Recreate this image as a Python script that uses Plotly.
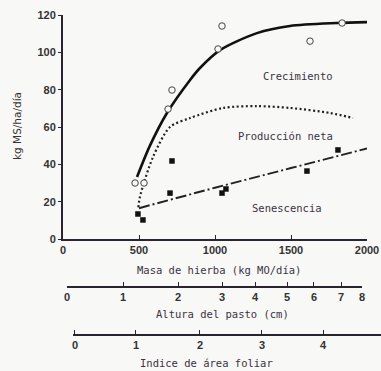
import plotly.graph_objects as go

# ---- data ----
crec_pts_x = [474, 533, 691, 717, 1020, 1046, 1625, 1836]
crec_pts_y = [30, 30, 69.6, 79.8, 101.8, 114.1, 106, 115.7]

sen_pts_x = [493, 526, 704, 717, 1046, 1072, 1605, 1809]
sen_pts_y = [13.4, 10.2, 24.6, 41.8, 24.6, 26.8, 36.4, 47.7]

crec_curve_x = [487, 572, 684, 836, 901, 1033, 1276, 1493, 1803, 2000]
crec_curve_y = [33.2, 50, 67.5, 85.2, 91.6, 101.2, 110.3, 114.1, 115.7, 116.2]

neta_curve_x = [496, 506, 592, 704, 836, 1053, 1276, 1493, 1757, 1908]
neta_curve_y = [17, 22.5, 43.9, 60, 64.8, 70.2, 71.2, 70.2, 67.5, 64.8]

sen_curve_x = [500, 1000, 1500, 2000]
sen_curve_y = [16.5, 27.5, 38, 48.5]

x_ticks = [0, 500, 1000, 1500, 2000]
y_ticks = [0, 20, 40, 60, 80, 100, 120]

# grass-mass equivalents of the height and LAI ticks
altura_labels = ["0", "1", "2", "3", "4", "5", "6", "7", "8"]
altura_mass = [26, 395, 757, 1046, 1263, 1474, 1651, 1829, 1967]
iaf_labels = ["0", "1", "2", "3", "4"]
iaf_mass = [79, 480, 901, 1309, 1711]

BG = "#f8f8f6"
INK = "#2a2430"
TXT = "#3b3344"
MONO = "DejaVu Sans Mono"
SANS = "Liberation Sans"

fig = go.Figure()
fig.add_trace(go.Scatter(x=crec_curve_x, y=crec_curve_y, mode="lines",
                         line=dict(color="#111", width=2.6, shape="spline", smoothing=0.8),
                         showlegend=False, hoverinfo="skip"))
fig.add_trace(go.Scatter(x=neta_curve_x, y=neta_curve_y, mode="lines",
                         line=dict(color="#222", width=2.2, dash="2px,2.5px", shape="spline", smoothing=0.8),
                         showlegend=False, hoverinfo="skip"))
fig.add_trace(go.Scatter(x=sen_curve_x, y=sen_curve_y, mode="lines",
                         line=dict(color="#222", width=2, dash="11px,3px,2px,3px"),
                         showlegend=False, hoverinfo="skip"))
fig.add_trace(go.Scatter(x=crec_pts_x, y=crec_pts_y, mode="markers",
                         marker=dict(symbol="circle", size=6.5, color=BG,
                                     line=dict(color="#444", width=1)),
                         showlegend=False))
fig.add_trace(go.Scatter(x=sen_pts_x, y=sen_pts_y, mode="markers",
                         marker=dict(symbol="square", size=5.5, color="#111",
                                     line=dict(width=0)),
                         showlegend=False))
# anchor traces for the secondary scales
fig.add_trace(go.Scatter(x=[None], y=[None], xaxis="x2", yaxis="y", showlegend=False))
fig.add_trace(go.Scatter(x=[None], y=[None], xaxis="x3", yaxis="y", showlegend=False))

W, H = 381, 371
def px(v): return v / W
def py(v): return (H - v) / H

tickfont = dict(family=SANS, size=11, color="#333", weight="bold")

fig.update_layout(
    width=W, height=H,
    margin=dict(l=0, r=0, t=0, b=0, pad=0, autoexpand=False),
    paper_bgcolor=BG, plot_bgcolor="rgba(0,0,0,0)",
    showlegend=False,
    xaxis=dict(domain=[px(63), px(367)], range=[0, 2000], tickvals=x_ticks,
               ticks="inside", ticklen=4, tickwidth=1.2, tickcolor=INK,
               showline=True, linecolor=INK, linewidth=2,
               showgrid=False, zeroline=False, tickfont=tickfont, anchor="y"),
    yaxis=dict(domain=[py(239), py(15)], range=[0, 120], tickvals=y_ticks,
               ticks="outside", ticklen=3, tickwidth=1.2, tickcolor=INK,
               showline=True, linecolor=INK, linewidth=2,
               showgrid=False, zeroline=False, tickfont=tickfont, anchor="x"),
    xaxis2=dict(domain=[px(67), px(362)], range=[26, 1967],
                tickvals=altura_mass, ticktext=altura_labels,
                ticks="inside", ticklen=4, tickwidth=1, tickcolor=INK,
                showline=True, linecolor=INK, linewidth=1.6,
                showgrid=False, zeroline=False, tickfont=tickfont,
                anchor="free", position=py(287)),
    xaxis3=dict(domain=[px(73), 1.0], range=[66, 2092],
                tickvals=iaf_mass, ticktext=iaf_labels,
                ticks="inside", ticklen=4, tickwidth=1, tickcolor=INK,
                showline=True, linecolor=INK, linewidth=1.6,
                showgrid=False, zeroline=False, tickfont=tickfont,
                anchor="free", position=py(335)),
)

lab = dict(family=MONO, size=10.5, color=TXT)
annots = [
    dict(text="Crecimiento", x=1546, y=87.5, xref="x", yref="y"),
    dict(text="Producción neta", x=1461, y=55, xref="x", yref="y"),
    dict(text="Senescencia", x=1474, y=16.6, xref="x", yref="y"),
    dict(text="Masa de hierba (kg MO/día)", x=px(219), y=py(270), xref="paper", yref="paper"),
    dict(text="Altura del pasto (cm)", x=px(222), y=py(314), xref="paper", yref="paper"),
    dict(text="Indice de área foliar", x=px(206), y=py(363), xref="paper", yref="paper"),
]
for a in annots:
    fig.add_annotation(showarrow=False, font=lab, xanchor="center", yanchor="middle", **a)

fig.add_annotation(text="kg MS/ha/día", x=px(17), y=py(126), xref="paper", yref="paper",
                   textangle=-90, showarrow=False,
                   font=dict(family="DejaVu Sans", size=10.5, color="#333"),
                   xanchor="center", yanchor="middle")

fig.write_html("out.html", config={"displayModeBar": False},
               post_script="document.body.style.margin='0';document.body.style.padding='0';document.body.style.overflow='hidden';")
